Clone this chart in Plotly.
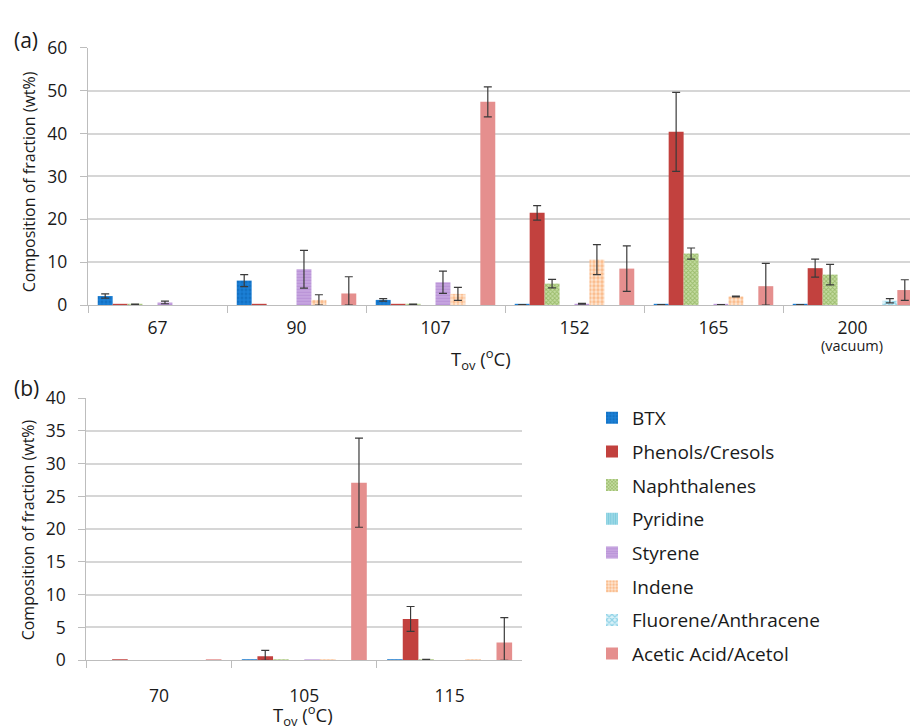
import plotly.graph_objects as go

# ---------------- data ----------------
series_names = ["BTX", "Phenols/Cresols", "Naphthalenes", "Pyridine", "Styrene",
                "Indene", "Fluorene/Anthracene", "Acetic Acid/Acetol"]

# (a) oven temperatures
temps_a = ["67", "90", "107", "152", "165", "200"]
btx_a = [2.1, 5.7, 1.2, 0.1, 0.1, 0.1]
btx_a_err = [0.5, 1.4, 0.3, 0.02, 0.02, 0.02]
phenols_a = [0.15, 0.15, 0.15, 21.5, 40.4, 8.6]
phenols_a_err = [None, None, None, 1.7, 9.2, 2.1]
naph_a = [0.15, 0.0, 0.15, 5.0, 12.0, 7.1]
naph_a_err = [0.05, None, 0.05, 1.0, 1.3, 2.4]
pyridine_a = [0.0, 0.0, 0.0, 0.0, 0.0, 0.0]
pyridine_a_err = [None, None, None, None, None, None]
styrene_a = [0.6, 8.35, 5.3, 0.3, 0.1, 0.0]
styrene_a_err = [0.3, 4.4, 2.6, 0.1, 0.02, None]
indene_a = [0.0, 1.2, 2.6, 10.6, 2.0, 0.0]
indene_a_err = [None, 1.2, 1.5, 3.5, 0.1, None]
fluorene_a = [0.0, 0.0, 0.0, 0.0, 0.0, 1.0]
fluorene_a_err = [None, None, None, None, None, 0.5]
acetic_a = [0.0, 2.7, 47.4, 8.5, 4.4, 3.5]
acetic_a_err = [None, 3.9, 3.5, 5.3, 5.3, 2.4]

# (b) oven temperatures
temps_b = ["70", "105", "115"]
btx_b = [0.0, 0.1, 0.1]
btx_b_err = [None, None, None]
phenols_b = [0.1, 0.6, 6.3]
phenols_b_err = [None, 0.9, 1.9]
naph_b = [0.0, 0.1, 0.1]
naph_b_err = [None, None, 0.05]
pyridine_b = [0.0, 0.0, 0.0]
pyridine_b_err = [None, None, None]
styrene_b = [0.0, 0.1, 0.0]
styrene_b_err = [None, None, None]
indene_b = [0.0, 0.1, 0.1]
indene_b_err = [None, None, None]
fluorene_b = [0.0, 0.0, 0.0]
fluorene_b_err = [None, None, None]
acetic_b = [0.1, 27.1, 2.7]
acetic_b_err = [None, 6.8, 3.8]

values_a = [btx_a, phenols_a, naph_a, pyridine_a, styrene_a, indene_a, fluorene_a, acetic_a]
errors_a = [btx_a_err, phenols_a_err, naph_a_err, pyridine_a_err, styrene_a_err,
            indene_a_err, fluorene_a_err, acetic_a_err]
values_b = [btx_b, phenols_b, naph_b, pyridine_b, styrene_b, indene_b, fluorene_b, acetic_b]
errors_b = [btx_b_err, phenols_b_err, naph_b_err, pyridine_b_err, styrene_b_err,
            indene_b_err, fluorene_b_err, acetic_b_err]

# ---------------- styles ----------------
styles = [
    dict(color="#1b80d6", pattern=dict(shape=".", fgcolor="#0b5fae", size=4, solidity=0.45, fillmode="overlay")),
    dict(color="#c2413e"),
    dict(color="#c5dca2", pattern=dict(shape="x", fgcolor="#6e9a33", size=3, solidity=0.5, fillmode="overlay")),
    dict(color="#a4dde9", pattern=dict(shape="|", fgcolor="#53b8d0", size=3, solidity=0.5, fillmode="overlay")),
    dict(color="#caa9e2", pattern=dict(shape="-", fgcolor="#a57ccb", size=3, solidity=0.5, fillmode="overlay")),
    dict(color="#fde6d2", pattern=dict(shape=".", fgcolor="#f7944a", size=4, solidity=0.55, fillmode="overlay")),
    dict(color="#d9f1f8", pattern=dict(shape="x", fgcolor="#4ab5d6", size=5, solidity=0.5, fillmode="overlay")),
    dict(color="#e58f8e"),
]

FONT = "'Open Sans', 'Noto Sans', sans-serif"
TXT = "#1a1a1a"
GRID = "#d6d6d6"
AXIS = "#bdbdbd"
NO_ERR = "NaN"  # plotly.js skips error bars whose value is not numeric


def bar_values(vals):
    # empty categories are left blank rather than drawn as zero-height bars
    return [v if v > 0 else None for v in vals]


def err_dict(vals, errs):
    plus = [e if (e is not None and v > 0) else NO_ERR for v, e in zip(vals, errs)]
    minus = [min(e, v) if (e is not None and v > 0) else NO_ERR for v, e in zip(vals, errs)]
    return dict(type="data", symmetric=False, array=plus, arrayminus=minus,
                color="#3a3a3a", thickness=1.2, width=4)


fig = go.Figure()
for i, name in enumerate(series_names):
    fig.add_trace(go.Bar(
        x=temps_a, y=bar_values(values_a[i]), name=name, legendgroup=name,
        marker=dict(line=dict(width=0), **styles[i]),
        error_y=err_dict(values_a[i], errors_a[i]),
        xaxis="x", yaxis="y", showlegend=True,
    ))
for i, name in enumerate(series_names):
    fig.add_trace(go.Bar(
        x=temps_b, y=bar_values(values_b[i]), name=name, legendgroup=name,
        marker=dict(line=dict(width=0), **styles[i]),
        error_y=err_dict(values_b[i], errors_b[i]),
        xaxis="x2", yaxis="y2", showlegend=False,
    ))

W, H = 910, 728
axis_common = dict(
    showline=True, linecolor=AXIS, linewidth=1.3,
    tickfont=dict(family=FONT, size=17.5, color=TXT),
)

fig.update_layout(
    width=W, height=H,
    margin=dict(l=0, r=0, t=0, b=0),
    paper_bgcolor="white", plot_bgcolor="white",
    barmode="group", bargap=0.14, bargroupgap=0,
    font=dict(family=FONT, color=TXT),
    xaxis=dict(domain=[88 / W, 1.0], anchor="y", type="category",
               range=[-0.5, -0.5 + 822 / 139], ticks="outside", ticklen=7,
               tickcolor=AXIS, tickson="boundaries", showgrid=False,
               ticklabelstandoff=7, **axis_common),
    yaxis=dict(domain=[1 - 302 / H, 1 - 36 / H], anchor="x", range=[0, 60],
               dtick=10, showgrid=True, gridcolor=GRID, gridwidth=1.5,
               ticks="outside", ticklen=7, tickcolor=AXIS, zeroline=False,
               ticklabelstandoff=9, **axis_common),
    xaxis2=dict(domain=[86.3 / W, 522.3 / W], anchor="y2", type="category",
                range=[-0.5, 2.5], ticks="outside", ticklen=7, tickcolor=AXIS,
                tickson="boundaries", showgrid=False, ticklabelstandoff=20,
                **axis_common),
    yaxis2=dict(domain=[1 - 669.3 / H, 1 - 398.3 / H], anchor="x2", range=[0, 40],
                dtick=5, showgrid=True, gridcolor=GRID, gridwidth=1.5,
                ticks="outside", ticklen=7, tickcolor=AXIS, zeroline=False,
                ticklabelstandoff=9, **axis_common),
    legend=dict(x=592 / W, y=1 - 399 / H, xanchor="left", yanchor="top",
                font=dict(family=FONT, size=19, color=TXT),
                tracegroupgap=6, bgcolor="rgba(0,0,0,0)", itemclick=False),
    showlegend=True,
)


def px_annot(text, x, y, size, angle=0, yanchor="middle"):
    fig.add_annotation(text=text, x=x / W, y=1 - y / H, xref="paper", yref="paper",
                       showarrow=False, textangle=angle, xanchor="center", yanchor=yanchor,
                       font=dict(family=FONT, size=size, color=TXT))


px_annot("(a)", 26, 28, 21)
px_annot("(b)", 26, 388, 21)
px_annot("Composition of fraction (wt%)", 29, 175, 16, -90)
px_annot("Composition of fraction (wt%)", 28, 535, 16, -90)
px_annot("T<sub>ov</sub> (<sup>o</sup>C)", 481, 340, 18.5, yanchor="top")
px_annot("T<sub>ov</sub> (<sup>o</sup>C)", 303, 708, 18.5, yanchor="top")
px_annot("(vacuum)", 852, 344, 14.5)

fig.write_html("out.html")
